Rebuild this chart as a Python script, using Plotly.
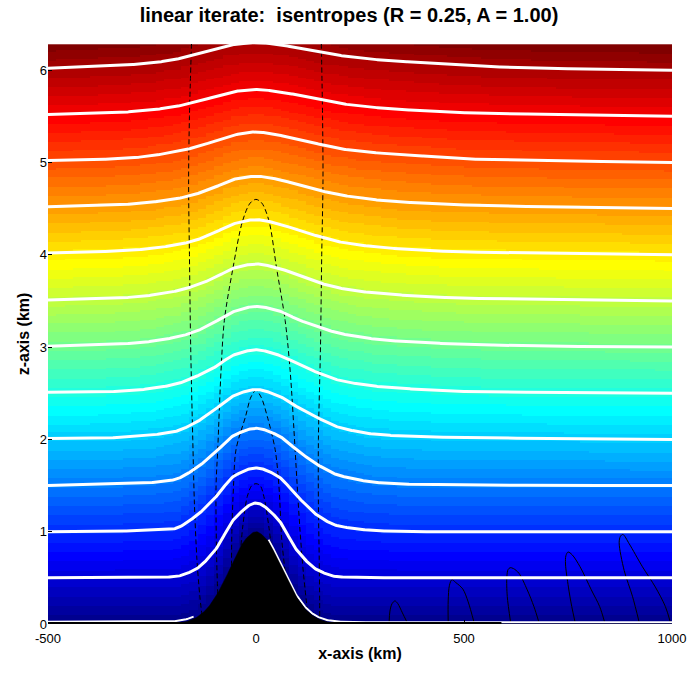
import numpy as np
import plotly.graph_objects as go

# ---------------- data ----------------
# sample positions (km) at which isentrope heights were read
x_samples = [-500, -400, -300, -200, -150, -100, -50, 0, 50, 100, 150, 200, 300, 400, 500, 700, 1000]

# potential-temperature level of each isentrope (its undisturbed height, km)
isentrope_levels = [0.5, 1.0, 1.5, 2.0, 2.5, 3.0, 3.5, 4.0, 4.5, 5.0, 5.5, 6.0]

# height (km) of each isentrope at x_samples
isentrope_heights = [
    [0.50, 0.50, 0.50, 0.51, 0.58, 0.79, 1.15, 1.31, 1.15, 0.79, 0.58, 0.51, 0.50, 0.50, 0.50, 0.50, 0.50],
    [1.00, 1.00, 1.01, 1.03, 1.15, 1.36, 1.61, 1.69, 1.61, 1.38, 1.17, 1.06, 1.01, 1.00, 1.00, 1.00, 1.00],
    [1.50, 1.51, 1.52, 1.56, 1.67, 1.85, 2.05, 2.12, 2.05, 1.88, 1.72, 1.61, 1.53, 1.51, 1.51, 1.50, 1.50],
    [2.01, 2.01, 2.03, 2.08, 2.17, 2.32, 2.48, 2.54, 2.48, 2.35, 2.23, 2.13, 2.05, 2.03, 2.02, 2.01, 2.00],
    [2.51, 2.51, 2.53, 2.59, 2.67, 2.78, 2.92, 2.97, 2.92, 2.82, 2.72, 2.64, 2.57, 2.54, 2.52, 2.51, 2.50],
    [3.01, 3.02, 3.04, 3.10, 3.16, 3.27, 3.39, 3.44, 3.40, 3.30, 3.22, 3.15, 3.08, 3.05, 3.03, 3.01, 3.00],
    [3.51, 3.52, 3.54, 3.60, 3.66, 3.75, 3.86, 3.90, 3.86, 3.78, 3.70, 3.64, 3.58, 3.55, 3.53, 3.52, 3.50],
    [4.02, 4.03, 4.05, 4.10, 4.15, 4.24, 4.34, 4.38, 4.34, 4.27, 4.20, 4.14, 4.08, 4.05, 4.03, 4.02, 4.00],
    [4.52, 4.53, 4.55, 4.60, 4.65, 4.73, 4.82, 4.85, 4.82, 4.76, 4.70, 4.65, 4.59, 4.56, 4.54, 4.52, 4.50],
    [5.02, 5.03, 5.05, 5.11, 5.16, 5.23, 5.30, 5.33, 5.30, 5.25, 5.20, 5.15, 5.10, 5.07, 5.04, 5.02, 5.00],
    [5.52, 5.53, 5.55, 5.60, 5.65, 5.71, 5.77, 5.79, 5.77, 5.73, 5.68, 5.64, 5.59, 5.56, 5.54, 5.52, 5.50],
    [6.02, 6.04, 6.06, 6.11, 6.17, 6.23, 6.28, 6.30, 6.28, 6.24, 6.20, 6.16, 6.11, 6.08, 6.05, 6.02, 6.00],
]

# mountain profile (km)
terrain_x = [-500, -250, -200, -175, -150, -125, -100, -75, -50, -25, 0, 25, 50, 75, 100, 125, 150, 175, 200, 250, 1000]
terrain_z = [0, 0, 0.006, 0.019, 0.055, 0.133, 0.275, 0.48, 0.72, 0.92, 1.0, 0.92, 0.72, 0.48, 0.275, 0.133, 0.055, 0.019, 0.006, 0, 0]

# dashed (negative) contours near the mountain: (x km, z km)
dashed_contours = [
    ([-155, -160, -162, -160, -157, -152, -148, -142, -135, -130],
     [6.29, 5.5, 4.8, 4.0, 3.0, 2.0, 1.3, 0.7, 0.3, 0.1]),
    ([157, 160, 161, 158, 155, 150, 150, 152, 153, 153],
     [6.29, 5.5, 4.8, 4.0, 3.0, 2.0, 1.3, 0.7, 0.25, 0.08]),
    ([-92, -95, -96, -92, -84, -76, -56, -32, -14, 0, 14, 31, 50, 70, 82, 94, 99, 106, 114, 123],
     [0.32, 0.8, 1.5, 1.89, 2.75, 3.29, 3.84, 4.37, 4.56, 4.60, 4.56, 4.37, 3.84, 3.29, 2.75, 1.89, 1.5, 1.0, 0.55, 0.17]),
    ([-59, -58, -54, -48, -25, -12, 0, 12, 27, 46, 55, 62, 71],
     [0.63, 1.0, 1.5, 1.89, 2.25, 2.46, 2.53, 2.46, 2.25, 1.89, 1.5, 0.91, 0.53]),
    ([-36, -32, -21, -10, 0, 10, 19, 31, 36],
     [0.85, 1.05, 1.38, 1.50, 1.52, 1.50, 1.38, 1.05, 0.86]),
]

# solid thin contours downstream (x km, z km)
solid_contours = [
    ([320, 322, 327, 334, 341, 352, 363], [0.02, 0.14, 0.22, 0.25, 0.22, 0.12, 0.02]),
    ([462, 462, 465, 471, 480, 497, 510, 524], [0.02, 0.25, 0.42, 0.48, 0.45, 0.38, 0.24, 0.02]),
    ([612, 604, 603, 606, 611, 619, 632, 652, 668, 680], [0.02, 0.30, 0.51, 0.59, 0.61, 0.60, 0.55, 0.37, 0.19, 0.02]),
    ([767, 759, 751, 744, 745, 750, 760, 779, 806, 826, 838], [0.02, 0.19, 0.40, 0.65, 0.74, 0.78, 0.75, 0.62, 0.37, 0.19, 0.02]),
    ([921, 905, 885, 873, 876, 882, 897, 929, 960, 984, 996], [0.02, 0.30, 0.58, 0.88, 0.95, 0.97, 0.87, 0.62, 0.40, 0.19, 0.02]),
]

x_ticks = [-500, 0, 500, 1000]
z_ticks = [0, 1, 2, 3, 4, 5, 6]
x_range = [-500, 1000]
z_range = [0, 2 * np.pi]


# ---------------- helpers ----------------
def pchip(xk, yk, xq):
    xk = np.asarray(xk, float)
    yk = np.asarray(yk, float)
    xq = np.asarray(xq, float)
    h = np.diff(xk)
    d = np.diff(yk) / h
    n = len(xk)
    m = np.zeros(n)
    for k in range(1, n - 1):
        if d[k - 1] * d[k] <= 0:
            m[k] = 0.0
        else:
            w1 = 2 * h[k] + h[k - 1]
            w2 = h[k] + 2 * h[k - 1]
            m[k] = (w1 + w2) / (w1 / d[k - 1] + w2 / d[k])
    m[0] = d[0]
    m[-1] = d[-1]
    idx = np.clip(np.searchsorted(xk, xq) - 1, 0, n - 2)
    t = (xq - xk[idx]) / h[idx]
    h00 = 2 * t**3 - 3 * t**2 + 1
    h10 = t**3 - 2 * t**2 + t
    h01 = -2 * t**3 + 3 * t**2
    h11 = t**3 - t**2
    return h00 * yk[idx] + h10 * h[idx] * m[idx] + h01 * yk[idx + 1] + h11 * h[idx] * m[idx + 1]


# ---------------- field for the colour image ----------------
dx_cell = 20.0
dz_cell = 0.02
xc = np.arange(x_range[0] + dx_cell / 2, x_range[1], dx_cell)
zc = np.arange(dz_cell / 2, z_range[1], dz_cell)

ground_c = pchip(terrain_x, terrain_z, xc)
lines_c = [pchip(x_samples, hs, xc) for hs in isentrope_heights]
levels_all = [0.0] + list(isentrope_levels) + [isentrope_levels[-1] + 0.5]
theta = np.zeros((len(zc), len(xc)))
for j in range(len(xc)):
    hs = [ground_c[j]] + [lc[j] for lc in lines_c] + [lines_c[-1][j] + 0.5]
    theta[:, j] = np.interp(zc, hs, levels_all)
ncol = 64
cidx = np.clip(np.floor(theta / (2 * np.pi / ncol)), 0, ncol - 1)

jet = [[0, 'rgb(0,0,143)'], [7 / 63, 'rgb(0,0,255)'], [23 / 63, 'rgb(0,255,255)'],
       [39 / 63, 'rgb(255,255,0)'], [55 / 63, 'rgb(255,0,0)'], [1, 'rgb(128,0,0)']]

fig = go.Figure()
fig.add_trace(go.Heatmap(x=xc, y=zc, z=cidx, colorscale=jet, zmin=0, zmax=ncol - 1,
                         showscale=False, zsmooth=False, hoverinfo='skip'))

# dashed contours
for cx, cz in dashed_contours:
    fig.add_trace(go.Scatter(x=cx, y=cz, mode='lines', hoverinfo='skip', showlegend=False,
                             line=dict(color='black', width=1, dash='5px,3px', shape='spline', smoothing=0.9)))

# solid contours
for cx, cz in solid_contours:
    fig.add_trace(go.Scatter(x=cx, y=cz, mode='lines', hoverinfo='skip', showlegend=False,
                             line=dict(color='black', width=1, shape='spline', smoothing=0.9)))

# isentropes (white)
xd = np.linspace(x_range[0], x_range[1], 751)
for hs in isentrope_heights:
    fig.add_trace(go.Scatter(x=xd, y=pchip(x_samples, hs, xd), mode='lines', hoverinfo='skip',
                             showlegend=False, line=dict(color='white', width=3)))

# ground isentrope (white) and bottom frame (black)
ground_d = pchip(terrain_x, terrain_z, xd)
left_part = xd <= -150
right_part = xd >= 30
fig.add_trace(go.Scatter(x=xd[left_part], y=ground_d[left_part] + 0.025, mode='lines', hoverinfo='skip',
                         showlegend=False, line=dict(color='white', width=2)))
fig.add_trace(go.Scatter(x=xd[right_part], y=ground_d[right_part] + 0.02, mode='lines', hoverinfo='skip',
                         showlegend=False, line=dict(color='white', width=2)))
fig.add_trace(go.Scatter(x=[-500, 590], y=[0, 0], mode='lines', hoverinfo='skip', showlegend=False,
                         line=dict(color='black', width=4)))

# mountain
fig.add_trace(go.Scatter(x=np.concatenate([xd, [x_range[1], x_range[0]]]),
                         y=np.concatenate([ground_d, [0, 0]]), mode='lines', fill='toself',
                         fillcolor='black', hoverinfo='skip', showlegend=False,
                         line=dict(color='black', width=0.5)))

font_family = "Liberation Sans, Arial, sans-serif"
fig.update_layout(
    width=698, height=673,
    margin=dict(l=48, r=18, t=44, b=49),
    paper_bgcolor='white', plot_bgcolor='white',
    showlegend=False,
    title=dict(text='linear iterate:  isentropes (R = 0.25, A = 1.00)', x=0.5, xref='container',
               xanchor='center', y=1, yref='container', yanchor='top', pad=dict(t=8),
               font=dict(family=font_family, size=20, color='black', weight='bold')),
    font=dict(family=font_family, size=13, color='black'),
)
fig.update_xaxes(range=x_range, tickvals=x_ticks, ticktext=[str(v) for v in x_ticks],
                 ticks='inside', ticklen=4, tickcolor='black', showgrid=False, zeroline=False,
                 showline=False, ticklabelstandoff=5,
                 title=dict(text='x-axis (km)', standoff=2,
                            font=dict(family=font_family, size=16, color='black', weight='bold')))
fig.update_yaxes(range=z_range, tickvals=z_ticks, ticktext=[str(v) for v in z_ticks],
                 ticks='inside', ticklen=4, tickcolor='black', showgrid=False, zeroline=False,
                 showline=False,
                 title=dict(text='z-axis (km)', standoff=6,
                            font=dict(family=font_family, size=16, color='black', weight='bold')))

fig.write_html("out.html")
